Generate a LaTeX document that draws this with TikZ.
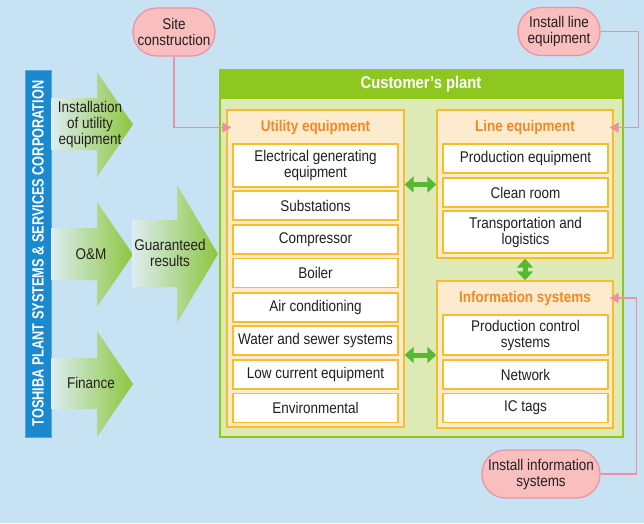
\documentclass[tikz,border=0pt]{standalone}
\usepackage{fontspec}
\setmainfont{Liberation Sans}[FakeStretch=0.87]
\newfontfamily\barfont{Liberation Sans}[FakeStretch=0.78]
\usetikzlibrary{arrows.meta,calc}

\definecolor{bgblue}{HTML}{C6E2F3}
\definecolor{barblue}{HTML}{1B89D0}
\definecolor{plantgreen}{HTML}{8DC71F}
\definecolor{plantbody}{HTML}{DDEAB5}
\definecolor{panelfill}{HTML}{FDEBCF}
\definecolor{panelline}{HTML}{F6BF2A}
\definecolor{titleorange}{HTML}{EF8A24}
\definecolor{linkgreen}{HTML}{55B933}
\definecolor{pinkfill}{HTML}{F9BFBF}
\definecolor{pinkline}{HTML}{EE8FA3}
\definecolor{inktext}{HTML}{231F20}
\definecolor{arrowpale}{HTML}{DDEDF0}
\definecolor{arrowgreen}{HTML}{8CC63E}

\newcommand{\bodyfont}{\fontsize{15.5}{16}\selectfont}

\begin{document}
\begin{tikzpicture}[x=1pt,y=-1pt,
  txt/.style={font=\bodyfont, text=inktext, align=center, inner sep=0pt},
  item/.style={txt, draw=panelline, fill=white, line width=1.4pt,
    minimum width=165pt, minimum height=29pt},
  panel/.style={draw=panelline, fill=panelfill, line width=1.4pt, inner sep=0pt},
  paneltitle/.style={font=\bodyfont\bfseries, text=titleorange, inner sep=0pt},
  callout/.style={txt, draw=pinkline, fill=pinkfill, line width=1.2pt,
    rounded corners=23.5pt, minimum height=48pt},
  pinklink/.style={draw=pinkline, line width=1.3pt,
    -{Triangle[length=9pt,width=10pt]}},
  duplex/.style={draw=linkgreen, line width=5pt,
    {Triangle[length=9pt,width=16pt]}-{Triangle[length=9pt,width=16pt]}},
  blockarrow/.style={left color=arrowpale, right color=arrowgreen},
]
% background and page frame
\fill[bgblue] (0,0) rectangle (644,523);
\useasboundingbox (0,0) rectangle (644,523);

% company bar
\node[fill=barblue, draw=barblue!75!white, line width=0.8pt,
  minimum width=26pt, minimum height=367pt, inner sep=0pt] (bar) at (38,253.5) {};
\node[rotate=90, text=white, inner sep=0pt,
  font=\barfont\fontsize{16.3}{16}\selectfont\bfseries] (company) at (bar.center)
  {TOSHIBA PLANT SYSTEMS \& SERVICES CORPORATION};

% service arrows
\shade[blockarrow] (51,98) -- (97,98) -- (97,72) -- (133,124.5) -- (97,177)
  -- (97,150) -- (51,150) -- cycle;
\shade[blockarrow] (51,228) -- (97,228) -- (97,202) -- (133,254.5) -- (97,307)
  -- (97,280) -- (51,280) -- cycle;
\shade[blockarrow] (51,358) -- (97,358) -- (97,331) -- (133,384) -- (97,437)
  -- (97,409) -- (51,409) -- cycle;
\shade[blockarrow] (132,220) -- (177,220) -- (177,185) -- (218,254) -- (177,323)
  -- (177,287) -- (132,287) -- cycle;

\node[txt] (install) at (90,124) {Installation\\of utility\\equipment};
\node[txt] (om) at (91,254) {O\&M};
\node[txt] (finance) at (91,383) {Finance};
\node[txt] (guarantee) at (170,253) {Guaranteed\\results};

% customer's plant frame
\node[draw=plantgreen, fill=plantbody, line width=1.5pt, inner sep=0pt,
  minimum width=403pt, minimum height=367pt] (plant) at (421.5,253.5) {};
\fill[plantgreen] (plant.north west) rectangle ($(plant.north east)+(0,30)$);
\node[font=\fontsize{17}{17}\selectfont\bfseries, text=white, inner sep=0pt]
  (planttitle) at (421,84) {Customer’s plant};

% utility equipment
\node[panel, minimum width=177pt, minimum height=317pt] (utilpanel) at (315.5,268.5) {};
\node[paneltitle] (utiltitle) at (315.5,127.5) {Utility equipment};
\node[item, minimum height=43pt] (elec) at (315.5,165.5) {Electrical generating\\equipment};
\node[item] (subst) at (315.5,205.5) {Substations};
\node[item] (compr) at (315.5,239.5) {Compressor};
\node[item] (boiler) at (315.5,273) {Boiler};
\node[item] (aircon) at (315.5,307.5) {Air conditioning};
\node[item] (water) at (315.5,340.5) {Water and sewer systems};
\node[item] (lowcur) at (315.5,374.5) {Low current equipment};
\node[item] (envir) at (315.5,408) {Environmental};

% line equipment
\node[panel, minimum width=176pt, minimum height=148pt] (linepanel) at (525,184) {};
\node[paneltitle] (linetitle) at (525,127.5) {Line equipment};
\node[item] (prodeq) at (525.5,158.5) {Production equipment};
\node[item] (clean) at (525.5,192.5) {Clean room};
\node[item, minimum height=42pt] (transport) at (525.5,232) {Transportation and\\logistics};

% information systems
\node[panel, minimum width=176pt, minimum height=147pt] (infopanel) at (525,354.5) {};
\node[paneltitle] (infotitle) at (525,298) {Information systems};
\node[item, minimum height=40pt] (prodctrl) at (525.5,335) {Production control\\systems};
\node[item] (network) at (525.5,374.5) {Network};
\node[item] (ictags) at (525.5,408) {IC tags};

% links between the equipment groups
\draw[duplex] (utilpanel.east |- 0,184.5) -- (linepanel.west |- 0,184.5);
\draw[duplex] (utilpanel.east |- 0,355) -- (infopanel.west |- 0,355);
\draw[duplex] (linepanel.south) -- (infopanel.north);

% installation callouts
\node[callout, minimum width=82pt] (site) at (174,32) {Site\\construction};
\node[callout, minimum width=82pt] (instline) at (559,31.5) {Install line\\equipment};
\node[callout, minimum width=118pt] (instinfo) at (541,474) {Install information\\systems};

\draw[pinklink] (site.south) |- ([xshift=5pt]utilpanel.west |- utiltitle.center);
\draw[pinklink] (instline.east) -- ++(38,0) |- ([xshift=-4pt]linepanel.east |- linetitle.center);
\draw[pinklink] (instinfo.east) -- ++(36,0) |- ([xshift=-4pt]infopanel.east |- infotitle.center);
\end{tikzpicture}
\end{document}
